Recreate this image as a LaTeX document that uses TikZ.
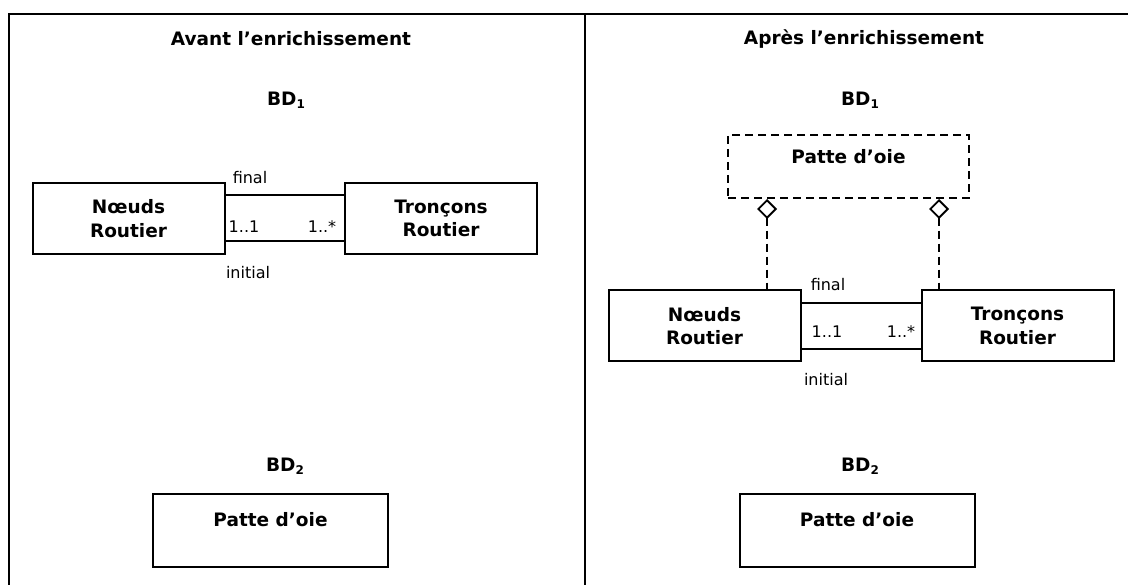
\documentclass[tikz,border=0pt]{standalone}
\usepackage{fontspec}
\setmainfont{DejaVu Sans}
\usetikzlibrary{arrows.meta}
\tikzset{
  frame/.style={line width=2pt},
  classbox/.style={draw, line width=2pt, inner sep=0pt, align=center,
    font=\bfseries\fontsize{18.5}{23.5}\selectfont, minimum width=192pt, minimum height=71pt},
  patte/.style={draw, line width=2pt, inner sep=0pt, align=center,
    font=\bfseries\fontsize{18.5}{23}\selectfont, text height=13pt},
  heading/.style={font=\bfseries\fontsize{18.5}{22}\selectfont, inner sep=0pt},
  small/.style={font=\fontsize{16}{18}\selectfont, inner sep=0pt},
  assoc/.style={line width=2pt},
  aggr/.style={line width=1.8pt, dash pattern=on 8pt off 5pt,
    {Diamond[open, length=20pt, width=20pt, line width=1.8pt]}-},
}
\newcommand{\bdsub}[1]{BD{\fontsize{12}{12}\selectfont\raisebox{-3pt}{#1}}}
\begin{document}
\begin{tikzpicture}[x=1pt, y=-1pt]
\useasboundingbox (0,0) rectangle (1128,585);
% frame
\coordinate (tl) at (9,14);
\coordinate (tr) at (1130,14);
\coordinate (bl) at (9,587);
\coordinate (mt) at (585,14);
\coordinate (mb) at (585,587);
\draw[frame] (bl) -- (tl) -- (tr);
\draw[frame] (mt) -- (mb);
% headings
\node[heading] (t1) at (291,39) {Avant l’enrichissement};
\node[heading] (t2) at (864,39) {Après l’enrichissement};
\node[heading] (bd1a) at (286,100) {\bdsub{1}};
\node[heading] (bd1b) at (860,100) {\bdsub{1}};
\node[heading] (bd2a) at (285,466) {\bdsub{2}};
\node[heading] (bd2b) at (860,466) {\bdsub{2}};
% left panel
\node[classbox] (n1) at (128.5,218.5) {Nœuds\\Routier};
\node[classbox] (r1) at (441,218.5) {Tronçons\\Routier};
\draw[assoc] ([yshift=23pt]n1.east) -- ([yshift=23pt]r1.west);
\draw[assoc] ([yshift=-23pt]n1.east) -- ([yshift=-23pt]r1.west);
\node[small] (f1) at (250,178) {final};
\node[small] (m1a) at (244,227) {1..1};
\node[small] (m1b) at (322,227) {1..*};
\node[small] (i1) at (248,273) {initial};
\node[patte, minimum width=235pt, minimum height=73pt, text depth=21pt] (p1) at (270.5,530.5) {Patte d’oie};
% right panel
\node[classbox] (n2) at (704.5,326) {Nœuds\\Routier};
\node[classbox] (r2) at (1017.5,326) {Tronçons\\Routier};
\draw[assoc] ([yshift=23pt]n2.east) -- ([yshift=23pt]r2.west);
\draw[assoc] ([yshift=-23pt]n2.east) -- ([yshift=-23pt]r2.west);
\node[small] (f2) at (828,285) {final};
\node[small] (m2a) at (827,332) {1..1};
\node[small] (m2b) at (901,332) {1..*};
\node[small] (i2) at (826,380) {initial};
\node[patte, dash pattern=on 8pt off 5pt, minimum width=241pt, minimum height=63pt, text depth=19pt] (d2) at (848.5,166.5) {Patte d’oie};
\node[patte, minimum width=235pt, minimum height=73pt, text depth=21pt] (p2) at (857,530.5) {Patte d’oie};
\coordinate (ca) at (767,0);
\coordinate (cb) at (939,0);
\draw[aggr] (d2.south -| ca) -- (n2.north -| ca);
\draw[aggr] (d2.south -| cb) -- (r2.north -| cb);
\end{tikzpicture}
\end{document}
